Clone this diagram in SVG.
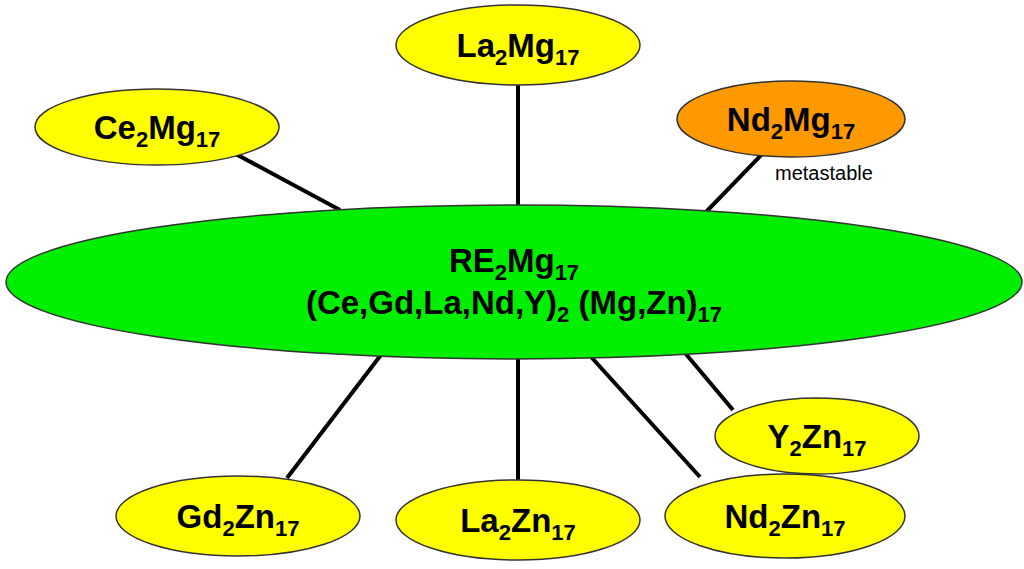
<svg xmlns="http://www.w3.org/2000/svg" width="1024" height="569" viewBox="0 0 1024 569">
<style>
.n{stroke:#333;stroke-width:1.5}
.y{fill:#ffff00}
.t{font-family:"Liberation Sans",Arial,sans-serif;font-weight:bold;font-size:33px;fill:#000;text-anchor:middle}
.s{font-size:22px}
.c line{stroke:#000;stroke-width:4}
</style>
<rect width="1024" height="569" fill="#fff"/>
<g class="c">
<line x1="232" y1="152" x2="340" y2="210"/>
<line x1="518" y1="85" x2="518" y2="207"/>
<line x1="772" y1="144" x2="706" y2="212"/>
<line x1="287" y1="478" x2="387" y2="347"/>
<line x1="518" y1="480" x2="518" y2="357"/>
<line x1="700" y1="477" x2="583" y2="348"/>
<line x1="733" y1="410" x2="680" y2="347"/>
</g>
<g id="center"><ellipse class="n" cx="514" cy="282" rx="508" ry="77" fill="#00ee00"/>
<text class="t" x="514" y="272">RE<tspan class="s" dy="8">2</tspan><tspan dy="-8">Mg</tspan><tspan class="s" dy="8">17</tspan></text>
<text class="t" x="514" y="314">(Ce,Gd,La,Nd,Y)<tspan class="s" dy="8">2</tspan><tspan dy="-8"> (Mg,Zn)</tspan><tspan class="s" dy="8">17</tspan></text></g>
<g id="la2mg17"><ellipse class="n y" cx="518" cy="45" rx="122" ry="40"/><text class="t" x="518" y="57">La<tspan class="s" dy="8">2</tspan><tspan dy="-8">Mg</tspan><tspan class="s" dy="8">17</tspan></text></g>
<g id="ce2mg17"><ellipse class="n y" cx="157" cy="127" rx="122" ry="38"/><text class="t" x="157" y="139">Ce<tspan class="s" dy="8">2</tspan><tspan dy="-8">Mg</tspan><tspan class="s" dy="8">17</tspan></text></g>
<g id="nd2mg17"><ellipse class="n" cx="791" cy="119" rx="114" ry="38" fill="#ff9900"/><text class="t" x="791" y="131">Nd<tspan class="s" dy="8">2</tspan><tspan dy="-8">Mg</tspan><tspan class="s" dy="8">17</tspan></text>
<text x="775" y="180" font-family="Liberation Sans,Arial,sans-serif" font-size="20">metastable</text></g>
<g id="y2zn17"><ellipse class="n y" cx="817" cy="436" rx="102" ry="38"/><text class="t" x="817" y="448">Y<tspan class="s" dy="8">2</tspan><tspan dy="-8">Zn</tspan><tspan class="s" dy="8">17</tspan></text></g>
<g id="gd2zn17"><ellipse class="n y" cx="238" cy="516" rx="122" ry="40"/><text class="t" x="238" y="528">Gd<tspan class="s" dy="8">2</tspan><tspan dy="-8">Zn</tspan><tspan class="s" dy="8">17</tspan></text></g>
<g id="la2zn17"><ellipse class="n y" cx="518" cy="520" rx="122" ry="40"/><text class="t" x="518" y="532">La<tspan class="s" dy="8">2</tspan><tspan dy="-8">Zn</tspan><tspan class="s" dy="8">17</tspan></text></g>
<g id="nd2zn17"><ellipse class="n y" cx="785" cy="516" rx="120" ry="42"/><text class="t" x="785" y="528">Nd<tspan class="s" dy="8">2</tspan><tspan dy="-8">Zn</tspan><tspan class="s" dy="8">17</tspan></text></g>
</svg>
